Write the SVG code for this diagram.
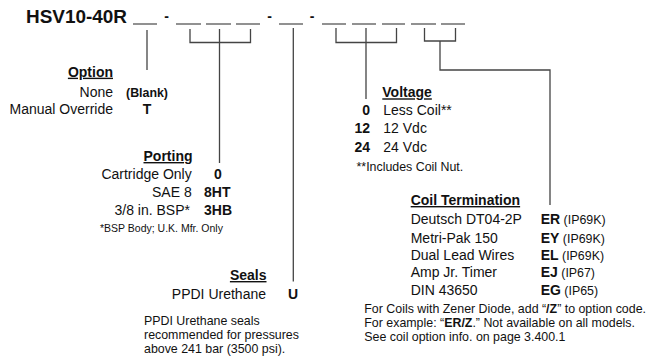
<svg xmlns="http://www.w3.org/2000/svg" width="649" height="358" viewBox="0 0 649 358">
<style>
text{font-family:"Liberation Sans",Arial,sans-serif;fill:#111;}
.t{font-size:14px;}
.b{font-size:14px;font-weight:bold;}
.h{font-size:14px;font-weight:bold;text-decoration:underline;}
.s{font-size:12.4px;}
.f{font-size:10.5px;}
.e{text-anchor:end;}
.m{text-anchor:middle;}
.ln{stroke:#444;stroke-width:1.3;fill:none;}
.bl{stroke:#555;stroke-width:1.3;}
</style>
<rect width="649" height="358" fill="#fff"/>
<g id="header">
<text x="26" y="22.5" style="font-size:18px;font-weight:bold" textLength="101" lengthAdjust="spacingAndGlyphs">HSV10-40R</text>
<g class="bl">
<line x1="133" y1="24" x2="157" y2="24"/>
<line x1="176" y1="24" x2="201" y2="24"/>
<line x1="206" y1="24" x2="231" y2="24"/>
<line x1="236" y1="24" x2="260" y2="24"/>
<line x1="279" y1="24" x2="303" y2="24"/>
<line x1="322" y1="24" x2="346" y2="24"/>
<line x1="352" y1="24" x2="376" y2="24"/>
<line x1="382" y1="24" x2="405" y2="24"/>
<line x1="411" y1="24" x2="436" y2="24"/>
<line x1="441" y1="24" x2="465" y2="24"/>
</g>
<text x="166.5" y="21" class="b m">-</text>
<text x="269.5" y="21" class="b m">-</text>
<text x="312" y="21" class="b m">-</text>
</g>
<g id="connectors">
<path class="ln" d="M147,30 V70"/>
<path class="ln" d="M190,29 V42.5 H250.5 V29 M219.5,29 V163"/>
<path class="ln" d="M293.3,28 V281.5"/>
<path class="ln" d="M336,28 V42.5 H396.5 V28 M366,28 V99"/>
<path class="ln" d="M424.5,28 V41 H455.5 V28 M440,41 V70 H550 V205"/>
</g>
<g id="option">
<text x="113" y="76.7" class="h e">Option</text>
<text x="113" y="96.7" class="t e">None</text>
<text x="126" y="96.7" style="font-size:12.4px;font-weight:bold">(Blank)</text>
<text x="113" y="114.3" class="t e">Manual Override</text>
<text x="147" y="114.3" class="b m">T</text>
</g>
<g id="porting">
<text x="192.5" y="161" class="h e">Porting</text>
<text x="191.7" y="178.5" class="t e">Cartridge Only</text>
<text x="218" y="178.5" class="b m">0</text>
<text x="191.7" y="196.7" class="t e">SAE 8</text>
<text x="204" y="196.7" class="b">8HT</text>
<text x="190" y="215" class="t e">3/8 in. BSP*</text>
<text x="204" y="215" class="b">3HB</text>
<text x="100" y="231.5" class="f">*BSP Body; U.K. Mfr. Only</text>
</g>
<g id="seals">
<text x="266.5" y="280" class="h e">Seals</text>
<text x="266" y="299" class="t e">PPDI Urethane</text>
<text x="293" y="299" class="b m">U</text>
<text x="144" y="325" class="s">PPDI Urethane seals</text>
<text x="144" y="339" class="s">recommended for pressures</text>
<text x="144" y="353.3" class="s">above 241 bar (3500 psi).</text>
</g>
<g id="voltage">
<text x="382.3" y="97.3" class="h">Voltage</text>
<text x="370" y="115" class="b e">0</text>
<text x="383.3" y="115" class="t">Less Coil**</text>
<text x="370" y="133.3" class="b e">12</text>
<text x="383.3" y="133.3" class="t">12 Vdc</text>
<text x="370" y="151.7" class="b e">24</text>
<text x="383.3" y="151.7" class="t">24 Vdc</text>
<text x="356.5" y="170.5" class="s">**Includes Coil Nut.</text>
</g>
<g id="coil-termination">
<text x="410.7" y="205" class="h">Coil Termination</text>
<text x="410.7" y="224.3" class="t">Deutsch DT04-2P</text>
<text x="410.7" y="242.7" class="t">Metri-Pak 150</text>
<text x="410.7" y="260" class="t">Dual Lead Wires</text>
<text x="410.7" y="277.3" class="t">Amp Jr. Timer</text>
<text x="410.7" y="295" class="t">DIN 43650</text>
<text x="540.7" y="224.3" class="b">ER<tspan class="s" style="font-weight:normal"> (IP69K)</tspan></text>
<text x="540.7" y="242.7" class="b">EY<tspan class="s" style="font-weight:normal"> (IP69K)</tspan></text>
<text x="540.7" y="260" class="b">EL<tspan class="s" style="font-weight:normal"> (IP69K)</tspan></text>
<text x="540.7" y="277.3" class="b">EJ<tspan class="s" style="font-weight:normal"> (IP67)</tspan></text>
<text x="540.7" y="295" class="b">EG<tspan class="s" style="font-weight:normal"> (IP65)</tspan></text>
<text x="364.3" y="312.7" class="s">For Coils with Zener Diode, add “<tspan style="font-weight:bold">/Z</tspan>” to option code.</text>
<text x="364.3" y="326.7" class="s">For example: “<tspan style="font-weight:bold">ER/Z</tspan>.” Not available on all models.</text>
<text x="364.3" y="340.7" class="s">See coil option info. on page 3.400.1</text>
</g>
</svg>
